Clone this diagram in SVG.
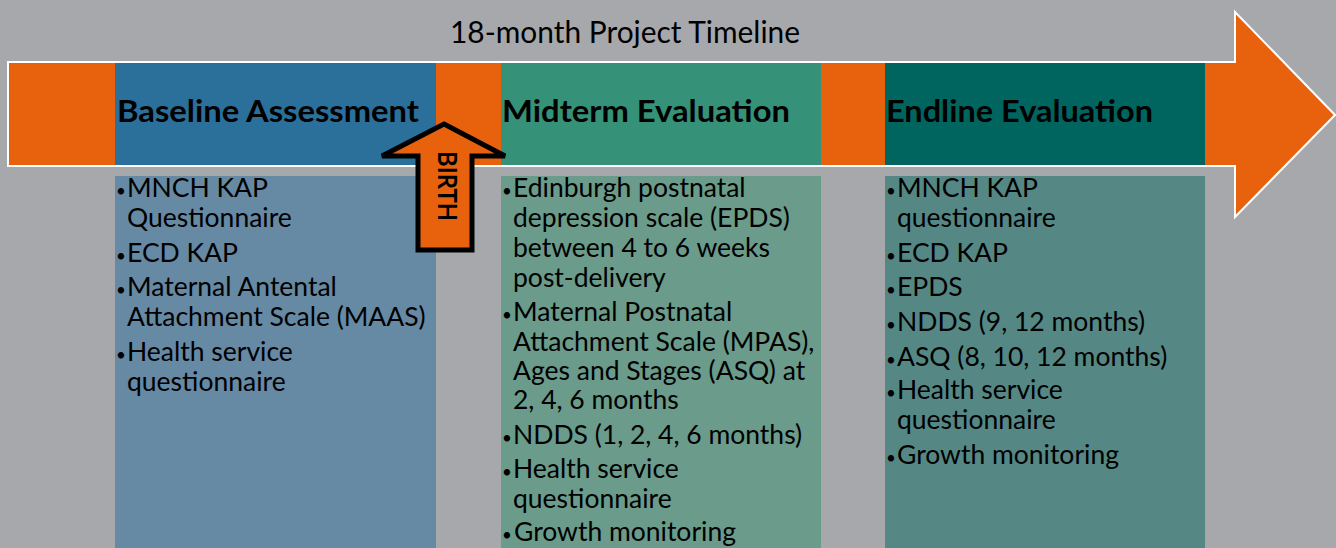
<svg xmlns="http://www.w3.org/2000/svg" width="1336" height="548" viewBox="0 0 1336 548">
<style>
text{font-family:Lato,"Open Sans","Liberation Sans",sans-serif;fill:#000}
.title{font-size:30px}
.head{font-size:30px;font-weight:bold}
.body{font-size:26.5px}
.b{font-size:17px}
.birth{font-size:27px;font-weight:bold}
</style>
<rect x="0" y="0" width="1336" height="548" fill="#a7a8ac"/>
<g id="timeline">
<polygon points="8,62 1235,62 1235,12 1335,115 1235,217 1235,166 8,166" fill="#e8620e" stroke="#ffffff" stroke-width="2"/>
</g>
<text class="title" x="625" y="43" text-anchor="middle" textLength="350" lengthAdjust="spacingAndGlyphs">18-month Project Timeline</text>
<g id="baseline">
<rect x="115" y="63" width="321" height="102" fill="#2b6f9b"/>
<text class="head" x="117" y="122" textLength="302" lengthAdjust="spacingAndGlyphs">Baseline Assessment</text>
<rect x="115" y="176" width="321" height="372" fill="#6689a4"/>
<g class="body">
<text x="116" y="197"><tspan class="b">•</tspan><tspan x="127">MNCH KAP</tspan></text>
<text x="127" y="227">Questionnaire</text>
<text x="116" y="262"><tspan class="b">•</tspan><tspan x="127">ECD KAP</tspan></text>
<text x="116" y="296"><tspan class="b">•</tspan><tspan x="127">Maternal Antental</tspan></text>
<text x="127" y="326">Attachment Scale (MAAS)</text>
<text x="116" y="361"><tspan class="b">•</tspan><tspan x="127">Health service</tspan></text>
<text x="127" y="391">questionnaire</text>
</g>
</g>
<g id="midterm">
<rect x="501" y="63" width="320" height="102" fill="#359177"/>
<text class="head" x="502" y="122" textLength="288" lengthAdjust="spacingAndGlyphs">Midterm Evaluation</text>
<rect x="501" y="176" width="320" height="372" fill="#6a9b8b"/>
<g class="body">
<text x="502" y="197"><tspan class="b">•</tspan><tspan x="513">Edinburgh postnatal</tspan></text>
<text x="513" y="227">depression scale (EPDS)</text>
<text x="513" y="257">between 4 to 6 weeks</text>
<text x="513" y="287">post-delivery</text>
<text x="502" y="321"><tspan class="b">•</tspan><tspan x="513">Maternal Postnatal</tspan></text>
<text x="513" y="351">Attachment Scale (MPAS),</text>
<text x="513" y="380">Ages and Stages (ASQ) at</text>
<text x="513" y="409">2, 4, 6 months</text>
<text x="502" y="444"><tspan class="b">•</tspan><tspan x="513">NDDS (1, 2, 4, 6 months)</tspan></text>
<text x="502" y="478"><tspan class="b">•</tspan><tspan x="513">Health service</tspan></text>
<text x="513" y="508">questionnaire</text>
<text x="502" y="541"><tspan class="b">•</tspan><tspan x="514">Growth monitoring</tspan></text>
</g>
</g>
<g id="endline">
<rect x="885" y="63" width="320" height="102" fill="#00655f"/>
<text class="head" x="886" y="122" textLength="267" lengthAdjust="spacingAndGlyphs">Endline Evaluation</text>
<rect x="885" y="176" width="320" height="372" fill="#558885"/>
<g class="body">
<text x="886" y="197"><tspan class="b">•</tspan><tspan x="897">MNCH KAP</tspan></text>
<text x="897" y="227">questionnaire</text>
<text x="886" y="262"><tspan class="b">•</tspan><tspan x="897">ECD KAP</tspan></text>
<text x="886" y="296"><tspan class="b">•</tspan><tspan x="897">EPDS</tspan></text>
<text x="886" y="331"><tspan class="b">•</tspan><tspan x="897">NDDS (9, 12 months)</tspan></text>
<text x="886" y="366"><tspan class="b">•</tspan><tspan x="897">ASQ (8, 10, 12 months)</tspan></text>
<text x="886" y="399"><tspan class="b">•</tspan><tspan x="897">Health service</tspan></text>
<text x="897" y="429">questionnaire</text>
<text x="886" y="464"><tspan class="b">•</tspan><tspan x="897">Growth monitoring</tspan></text>
</g>
</g>
<g id="birth">
<polygon points="444,124 505,156 472,156 472,250 418,250 418,156 382,156" fill="#e8620e" stroke="#000" stroke-width="5" stroke-linejoin="miter"/>
<text class="birth" transform="translate(438,186) rotate(90)" text-anchor="middle" textLength="70" lengthAdjust="spacingAndGlyphs">BIRTH</text>
</g>
<g id="connectors"/>
</svg>
